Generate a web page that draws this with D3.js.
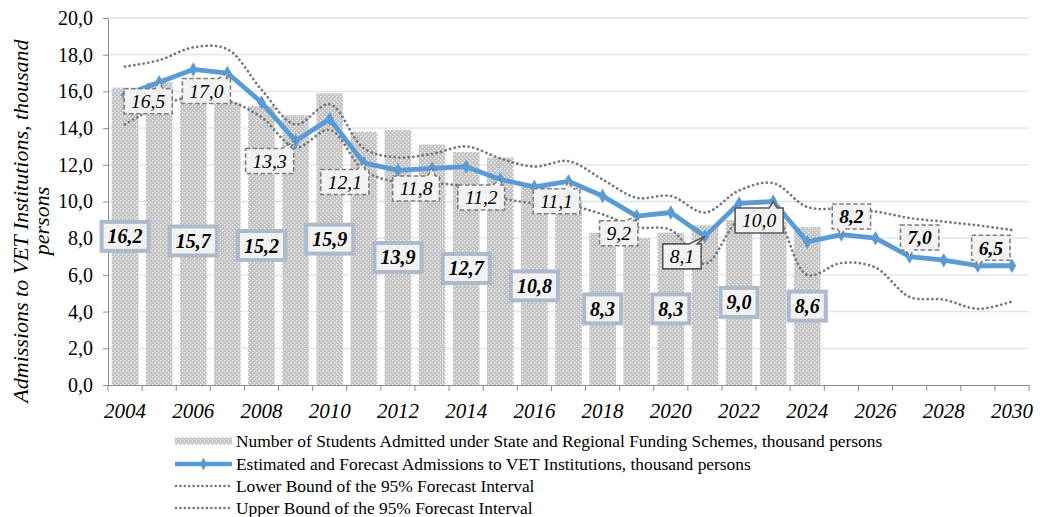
<!DOCTYPE html>
<html>
<head>
<meta charset="utf-8">
<script src="https://cdn.jsdelivr.net/npm/d3@7"></script>
<style>
  body { margin: 0; background: #ffffff; }
  svg text { font-family: "Liberation Serif", "Times New Roman", serif; fill: #000; }
</style>
</head>
<body>
<div id="chart"></div>
<script>
// categories
var years = [2004, 2005, 2006, 2007, 2008, 2009, 2010, 2011, 2012, 2013, 2014, 2015, 2016, 2017,
             2018, 2019, 2020, 2021, 2022, 2023, 2024, 2025, 2026, 2027, 2028, 2029, 2030];
var xTickYears = [2004, 2006, 2008, 2010, 2012, 2014, 2016, 2018, 2020, 2022, 2024, 2026, 2028, 2030];
var yTicks = [0, 2, 4, 6, 8, 10, 12, 14, 16, 18, 20];

// students admitted under state and regional funding (bars), 2004-2024
var admitted = [16.2, 16.5, 15.7, 15.4, 15.2, 14.7, 15.9, 13.8, 13.9, 13.1, 12.7, 12.4, 10.8, 10.1,
                8.3, 8.0, 8.3, 8.7, 9.0, 8.9, 8.6];
// estimated and forecast admissions (blue line), 2004-2030
var estimate = [15.8, 16.5, 17.2, 17.0, 15.4, 13.3, 14.5, 12.1, 11.7, 11.8, 11.9, 11.2, 10.8, 11.1,
                10.3, 9.2, 9.4, 8.1, 9.9, 10.0, 7.8, 8.2, 8.0, 7.0, 6.8, 6.5, 6.5];
var lowerBound = [14.2, 15.2, 15.7, 15.5, 14.6, 12.95, 13.9, 11.7, 11.05, 11.0, 10.8, 10.2, 9.9, 9.8,
                  9.3, 8.6, 8.45, 6.6, 9.0, 9.3, 6.0, 6.65, 6.4, 4.8, 4.65, 4.15, 4.55];
var upperBound = [17.35, 17.7, 18.4, 18.3, 16.1, 14.2, 15.3, 12.9, 12.4, 12.6, 13.0, 12.35, 11.9, 12.2,
                  11.2, 10.2, 10.3, 9.4, 10.6, 11.0, 9.7, 9.6, 9.45, 9.1, 8.9, 8.7, 8.45];

var barLabelYears = [2004, 2006, 2008, 2010, 2012, 2014, 2016, 2018, 2020, 2022, 2024];
var lineLabelYears = [2005, 2007, 2009, 2011, 2013, 2015, 2017, 2019, 2021, 2023, 2025, 2027, 2029];

var legendLabels = [
  "Number of Students Admitted under State and Regional Funding Schemes, thousand persons",
  "Estimated and Forecast Admissions to VET Institutions, thousand persons",
  "Lower Bound of the 95% Forecast Interval",
  "Upper Bound of the 95% Forecast Interval"
];

// where the line labels sit relative to their point (layout only)
var lineLabelOffsets = [[-11, 19], [-21, 18], [-26, 20], [-19, 19], [-16, 20], [-19, 18], [-12, 20],
                        [-18, 17], [-23, 20], [-14, 19], [10, -18], [10, -19], [13, -18]];
var solidLabelYears = [2021, 2023];
var boldLabelYears = [2025, 2027, 2029];

var width = 1042, height = 517;
var fmt = function(v) { return v.toFixed(1).replace(".", ","); };

var svg = d3.select("#chart").append("svg")
  .attr("width", width)
  .attr("height", height);

var defs = svg.append("defs");
var pat = defs.append("pattern")
  .attr("id", "dots")
  .attr("patternUnits", "userSpaceOnUse")
  .attr("width", 4).attr("height", 4);
pat.append("rect").attr("width", 4).attr("height", 4).attr("fill", "#c3c3c3");
pat.append("rect").attr("x", 0).attr("y", 0).attr("width", 1.2).attr("height", 1.2).attr("fill", "#ffffff");
pat.append("rect").attr("x", 2).attr("y", 2).attr("width", 1.2).attr("height", 1.2).attr("fill", "#ffffff");

var x = d3.scaleBand().domain(years).range([108, 1029]).padding(0);
var y = d3.scaleLinear().domain([0, 20]).range([385, 18]);
var bw = x.bandwidth();
var cx = function(yr) { return x(yr) + bw / 2; };

// gridlines
svg.append("g").selectAll("line")
  .data(yTicks.filter(function(d) { return d > 0; }))
  .enter().append("line")
    .attr("x1", 108).attr("x2", 1029)
    .attr("y1", function(d) { return y(d); })
    .attr("y2", function(d) { return y(d); })
    .attr("stroke", "#d9e4f4")
    .attr("stroke-width", 1.3);

// bars
svg.append("g").selectAll("rect")
  .data(admitted)
  .enter().append("rect")
    .attr("x", function(d, i) { return cx(years[i]) - bw * 0.39; })
    .attr("width", bw * 0.78)
    .attr("y", function(d) { return y(d); })
    .attr("height", function(d) { return y(0) - y(d); })
    .attr("fill", "url(#dots)");

// axes
var yAxis = svg.append("g")
  .attr("transform", "translate(108,0)")
  .call(d3.axisLeft(y).tickValues(yTicks).tickSize(5).tickSizeOuter(0).tickPadding(10).tickFormat(fmt));
yAxis.selectAll("text").style("font-size", "20px");
yAxis.selectAll("line, path").attr("stroke", "#8c8c8c");

var xAxis = svg.append("g")
  .attr("transform", "translate(0,385)")
  .call(d3.axisBottom(x).tickValues(xTickYears).tickSize(0).tickSizeOuter(0).tickPadding(18));
xAxis.selectAll("text").style("font-size", "21px").style("font-style", "italic");
xAxis.select("path").attr("stroke", "#8c8c8c");

svg.append("g").selectAll("line")
  .data(years.concat([null]))
  .enter().append("line")
    .attr("x1", function(d) { return d === null ? x.range()[1] : x(d); })
    .attr("x2", function(d) { return d === null ? x.range()[1] : x(d); })
    .attr("y1", 385).attr("y2", 391)
    .attr("stroke", "#8c8c8c");

// bounds
var smooth = function(vals) {
  return d3.line()
    .x(function(d, i) { return cx(years[i]); })
    .y(function(d) { return y(d); })
    .curve(d3.curveCatmullRom.alpha(0.5))(vals);
};
[lowerBound, upperBound].forEach(function(vals) {
  svg.append("path")
    .attr("d", smooth(vals))
    .attr("fill", "none")
    .attr("stroke", "#767676")
    .attr("stroke-width", 2.7)
    .attr("stroke-linecap", "round")
    .attr("stroke-dasharray", "0.1 4.6");
});

// estimate line
var line = d3.line()
  .x(function(d, i) { return cx(years[i]); })
  .y(function(d) { return y(d); });
svg.append("path")
  .attr("d", line(estimate))
  .attr("fill", "none")
  .attr("stroke", "#5b9bd5")
  .attr("stroke-width", 4.8)
  .attr("stroke-linejoin", "round");

svg.append("g").selectAll("path")
  .data(estimate)
  .enter().append("path")
    .attr("d", d3.symbol().type(d3.symbolDiamond).size(60))
    .attr("transform", function(d, i) { return "translate(" + cx(years[i]) + "," + y(d) + ")"; })
    .attr("fill", "#5b9bd5");

// bar labels, centred on the bar
barLabelYears.forEach(function(yr) {
  var v = admitted[years.indexOf(yr)];
  var g = svg.append("g").attr("transform", "translate(" + cx(yr) + "," + y(v / 2) + ")");
  var t = g.append("text")
    .attr("text-anchor", "middle")
    .attr("dy", "0.35em")
    .style("font-size", "20px")
    .style("font-weight", "bold")
    .style("font-style", "italic")
    .text(fmt(v));
  var w = t.node().getComputedTextLength() + 12;
  g.insert("rect", "text")
    .attr("x", -w / 2).attr("y", -14.5)
    .attr("width", w).attr("height", 29)
    .attr("fill", "#f2f2f2")
    .attr("stroke", "#adbacb")
    .attr("stroke-width", 4);
});

// line labels with callouts
lineLabelYears.forEach(function(yr, k) {
  var v = estimate[years.indexOf(yr)];
  var px = cx(yr), py = y(v);
  var lx = px + lineLabelOffsets[k][0], ly = py + lineLabelOffsets[k][1];
  var solid = solidLabelYears.indexOf(yr) >= 0;
  var bold = boldLabelYears.indexOf(yr) >= 0;
  var g = svg.append("g");
  var t = g.append("text")
    .attr("x", lx).attr("y", ly)
    .attr("text-anchor", "middle")
    .attr("dy", "0.35em")
    .style("font-size", "19.5px")
    .style("font-style", "italic")
    .style("font-weight", bold ? "bold" : "normal")
    .text(fmt(v));
  var w = t.node().getComputedTextLength() + 14, h = 25;
  var x0 = lx - w / 2, x1 = lx + w / 2, y0 = ly - h / 2, y1 = ly + h / 2;
  var bx = Math.max(x0 + 8, Math.min(x1 - 8, px));
  var d;
  if (py < y0) {
    d = "M" + x0 + "," + y0 + "L" + (bx - 4) + "," + y0 + "L" + px + "," + py + "L" + (bx + 4) + "," + y0 +
        "L" + x1 + "," + y0 + "L" + x1 + "," + y1 + "L" + x0 + "," + y1 + "Z";
  } else {
    d = "M" + x0 + "," + y0 + "L" + x1 + "," + y0 + "L" + x1 + "," + y1 + "L" + (bx + 4) + "," + y1 +
        "L" + px + "," + py + "L" + (bx - 4) + "," + y1 + "L" + x0 + "," + y1 + "Z";
  }
  g.insert("path", "text")
    .attr("d", d)
    .attr("fill", "#f2f2f2")
    .attr("stroke", solid ? "#595959" : "#7f7f7f")
    .attr("stroke-width", 1.6)
    .attr("stroke-dasharray", solid ? null : "4.5 2.5");
});

// y axis title
var title = svg.append("text")
  .attr("transform", "translate(28,221) rotate(-90)")
  .attr("text-anchor", "middle")
  .style("font-size", "22px")
  .style("font-style", "italic");
title.append("tspan").attr("x", 0).attr("dy", 0).text("Admissions to VET Institutions, thousand");
title.append("tspan").attr("x", 0).attr("dy", 21).text("persons");

// legend
var legend = svg.append("g");
var rowY = [441, 464, 486, 508];
legendLabels.forEach(function(lbl, i) {
  var row = legend.append("g").attr("transform", "translate(0," + rowY[i] + ")");
  if (i === 0) {
    row.append("rect").attr("x", 175).attr("y", -3.5).attr("width", 57).attr("height", 7).attr("fill", "url(#dots)");
  } else if (i === 1) {
    row.append("line").attr("x1", 175).attr("x2", 232).attr("stroke", "#5b9bd5").attr("stroke-width", 4.5);
    row.append("path").attr("d", d3.symbol().type(d3.symbolDiamond).size(45))
      .attr("transform", "translate(203.5,0)").attr("fill", "#5b9bd5");
  } else {
    row.append("line").attr("x1", 176).attr("x2", 231)
      .attr("stroke", "#767676").attr("stroke-width", 2.5)
      .attr("stroke-linecap", "round").attr("stroke-dasharray", "0.1 4.3");
  }
  row.append("text")
    .attr("x", 236).attr("dy", "0.35em")
    .style("font-size", "17.4px")
    .text(lbl);
});
</script>
</body>
</html>
